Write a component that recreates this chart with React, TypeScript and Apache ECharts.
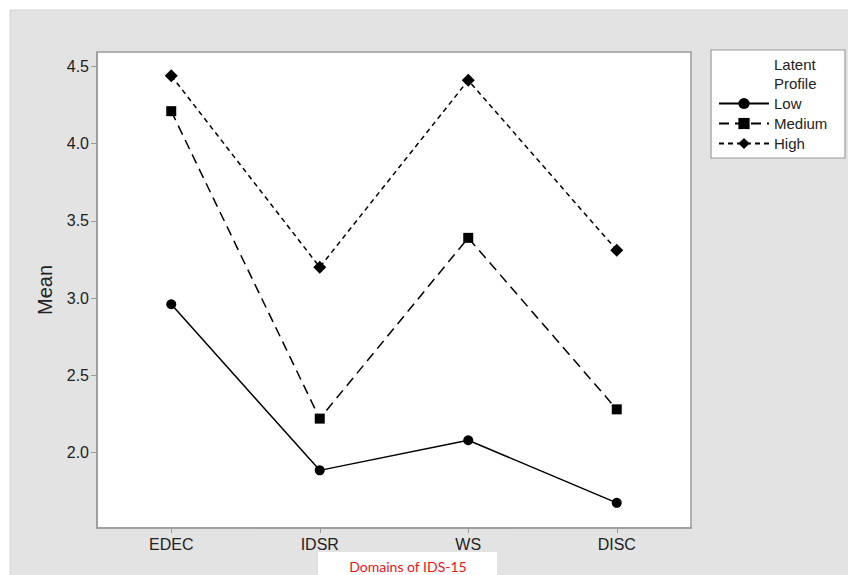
import React, { useEffect, useRef } from "react";
import * as echarts from "echarts";

const categories = ["EDEC", "IDSR", "WS", "DISC"];
const lowValues = [2.96, 1.885, 2.08, 1.675];
const mediumValues = [4.21, 2.22, 3.39, 2.28];
const highValues = [4.44, 3.2, 4.41, 3.31];
const yTicks = [2.0, 2.5, 3.0, 3.5, 4.0, 4.5];
const seriesNames = ["Low", "Medium", "High"];

export default function App() {
  const ref = useRef<HTMLDivElement>(null);
  useEffect(() => {
    if (!ref.current) return;
    const chart = echarts.init(ref.current, null, { renderer: "svg" });
    const font = "'Liberation Sans', Arial, sans-serif";
    const mk = (name: string, data: number[], symbol: string, size: number, dash: any) => ({
      name,
      type: "line",
      data,
      symbol,
      symbolSize: size,
      showSymbol: true,
      itemStyle: { color: "#000" },
      lineStyle: { color: "#000", width: 1.5, type: dash },
      z: 3,
    });
    chart.setOption({
      animation: false,
      backgroundColor: "#ffffff",
      textStyle: { fontFamily: font },
      graphic: [
        {
          type: "rect",
          z: -10,
          shape: { x: 10, y: 10, width: 840, height: 570 },
          style: { fill: "#e3e3e3", stroke: "#d2d2d2", lineWidth: 1 },
        },
        {
          type: "rect",
          z: 5,
          shape: { x: 711, y: 50, width: 134, height: 108 },
          style: { fill: "#ffffff", stroke: "#9a9a9a", lineWidth: 1.2 },
        },
        {
          type: "text",
          z: 6,
          x: 774,
          y: 57,
          style: { text: "Latent", font: `15px ${font}`, fill: "#222" },
        },
        {
          type: "text",
          z: 6,
          x: 774,
          y: 76,
          style: { text: "Profile", font: `15px ${font}`, fill: "#222" },
        },
        {
          type: "rect",
          z: 5,
          shape: { x: 318, y: 552, width: 179, height: 30 },
          style: { fill: "#ffffff" },
        },
        {
          type: "text",
          z: 6,
          x: 408,
          y: 566,
          style: {
            text: "Domains of IDS-15",
            font: `14px Lato, 'Open Sans', sans-serif`,
            fill: "#e8141c",
            align: "center",
            verticalAlign: "middle",
          },
        },
      ],
      legend: {
        data: seriesNames,
        orient: "vertical",
        left: 713,
        top: 91,
        itemWidth: 50,
        itemHeight: 14,
        itemGap: 5,
        z: 7,
        textStyle: { fontSize: 15, color: "#222", fontFamily: font },
      },
      grid: {
        left: 97,
        right: 157,
        top: 52,
        bottom: 47,
        show: true,
        backgroundColor: "#ffffff",
        borderColor: "#9a9a9a",
        borderWidth: 1.5,
        z: 0,
      },
      xAxis: {
        type: "category",
        data: categories,
        boundaryGap: true,
        axisLine: { show: true, lineStyle: { color: "#9a9a9a", width: 1.5 } },
        axisTick: { show: true, alignWithLabel: true, length: 5, lineStyle: { color: "#9a9a9a", width: 1 } },
        axisLabel: { fontSize: 16, color: "#222", margin: 8, fontFamily: font },
        splitLine: { show: false },
      },
      yAxis: {
        type: "value",
        min: 1.512,
        max: 4.593,
        name: "Mean",
        nameLocation: "middle",
        nameGap: 42,
        nameRotate: 90,
        nameTextStyle: { fontSize: 20, color: "#222", fontFamily: font },
        axisLine: { show: true, lineStyle: { color: "#9a9a9a", width: 1.5 } },
        axisTick: { show: true, length: 6, lineStyle: { color: "#9a9a9a", width: 1 }, customValues: yTicks },
        axisLabel: {
          fontSize: 16,
          color: "#222",
          margin: 8,
          fontFamily: font,
          customValues: yTicks,
          formatter: (v: number) => v.toFixed(1),
        },
        splitLine: { show: false },
      },
      series: [
        mk(seriesNames[0], lowValues, "circle", 10, "solid"),
        mk(seriesNames[1], mediumValues, "rect", 10, [10, 6]),
        mk(seriesNames[2], highValues, "diamond", 13, [5, 4]),
      ],
    });
    return () => chart.dispose();
  }, []);
  return (
    <div
      ref={ref}
      style={{ position: "fixed", left: 0, top: 0, width: 848, height: 575 }}
    />
  );
}
